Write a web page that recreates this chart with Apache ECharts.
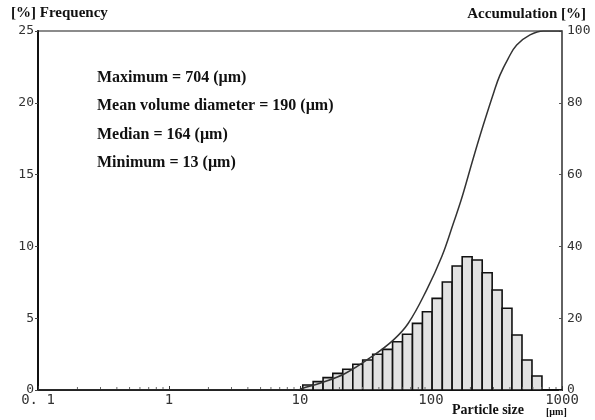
<!DOCTYPE html>
<html>
<head>
<meta charset="utf-8">
<script src="https://cdn.jsdelivr.net/npm/echarts@6/dist/echarts.min.js"></script>
<style>html,body{margin:0;padding:0;background:#fff;}#c{width:595px;height:420px;}</style>
</head>
<body>
<div id="c"></div>
<script>
// ---- data ----
const binEdges = [10.5, 12.6, 15.0, 17.8, 21.2, 25.3, 30.1, 35.9, 42.7, 50.9, 60.6, 72.2, 86.0, 102, 122, 145, 173, 206, 246, 293, 349, 415, 495, 590, 703];
const frequency = [0.35, 0.58, 0.86, 1.16, 1.44, 1.79, 2.09, 2.49, 2.83, 3.36, 3.88, 4.64, 5.45, 6.38, 7.52, 8.63, 9.28, 9.05, 8.17, 6.96, 5.69, 3.83, 2.09, 0.97];
const cumSize = [0.1, 1, 9.5, 10.5, 14.2, 22.1, 35.3, 51.5, 67.1, 92.7, 120.7, 148, 171.5, 210, 250.7, 302.7, 336, 389, 451, 570, 720, 1000];
const cumValue = [0, 0, 0, 0.5, 1.9, 4.6, 9.3, 13.9, 18.6, 27.9, 37.1, 46.4, 53.4, 64.5, 73.8, 83.1, 87.7, 92.4, 96.1, 98.9, 100, 100];
const xTicks = [0.1, 1, 10, 100, 1000];
const xTickLabels = ['0. 1', '1', '10', '100', '1000'];
const xMinorTicks = [0.2,0.3,0.4,0.5,0.6,0.7,0.8,0.9, 2,3,4,5,6,7,8,9, 20,30,40,50,60,70,80,90, 200,300,400,500,600,700,800,900];
const statLines = ['Maximum = 704 (\u00b5m)', 'Mean volume diameter = 190 (\u00b5m)', 'Median = 164 (\u00b5m)', 'Minimum = 13 (\u00b5m)'];

const barData = frequency.map((v, i) => [binEdges[i], binEdges[i + 1], v]);
const lineData = cumSize.map((s, i) => [s, cumValue[i]]);

const chart = echarts.init(document.getElementById('c'), null, {renderer: 'canvas'});
const labelFont = '"DejaVu Sans Mono", monospace';
const serif = '"Liberation Serif", "DejaVu Serif", serif';

chart.setOption({
  animation: false,
  backgroundColor: '#fff',
  grid: {left: 38, right: 33, top: 31, bottom: 30, show: true, borderColor: '#666', borderWidth: 1.5, containLabel: false},
  xAxis: {
    type: 'log', logBase: 10, min: 0.1, max: 1000,
    axisLine: {show: true, onZero: false, lineStyle: {color: '#111', width: 2}},
    axisTick: {show: true, inside: true, length: 4, lineStyle: {color: '#333'}},
    splitLine: {show: false},
    axisLabel: {
      color: '#333', fontFamily: labelFont, fontSize: 14, margin: 3,
      formatter: function (v) { const i = xTicks.findIndex(t => Math.abs(Math.log10(t) - Math.log10(v)) < 1e-6); return i >= 0 ? xTickLabels[i] : ''; }
    }
  },
  yAxis: [
    {
      type: 'value', min: 0, max: 25, interval: 5,
      axisLine: {show: true, lineStyle: {color: '#111', width: 2}},
      axisTick: {show: true, length: 3, lineStyle: {color: '#444'}},
      splitLine: {show: false},
      axisLabel: {color: '#333', fontFamily: labelFont, fontSize: 13, margin: 4}
    },
    {
      type: 'value', min: 0, max: 100, interval: 20, position: 'right',
      axisLine: {show: true, lineStyle: {color: '#555', width: 1.5}},
      axisTick: {show: true, inside: true, length: 3, lineStyle: {color: '#555'}},
      splitLine: {show: false},
      axisLabel: {color: '#333', fontFamily: labelFont, fontSize: 13, margin: 5}
    }
  ],
  series: [
    {
      type: 'custom', name: 'Frequency', yAxisIndex: 0,
      data: barData,
      encode: {x: [0, 1], y: 2},
      renderItem: function (params, api) {
        const p1 = api.coord([api.value(0), api.value(2)]);
        const p2 = api.coord([api.value(1), 0]);
        return {
          type: 'rect',
          shape: {x: p1[0], y: p1[1], width: p2[0] - p1[0], height: p2[1] - p1[1]},
          style: {fill: '#e2e2e2', stroke: '#111', lineWidth: 1.6}
        };
      }
    },
    {
      type: 'custom', name: 'minorTicks', yAxisIndex: 0, silent: true,
      data: xMinorTicks.map(v => [v, 0]),
      renderItem: function (params, api) {
        const p = api.coord([api.value(0), 0]);
        return {type: 'line', shape: {x1: p[0], y1: p[1] - 1, x2: p[0], y2: p[1] - 3}, style: {stroke: '#666', lineWidth: 1}};
      }
    },
    {
      type: 'line', name: 'Accumulation', yAxisIndex: 1,
      data: lineData, showSymbol: false, smooth: 0.4,
      lineStyle: {color: '#333', width: 1.5}
    }
  ],
  graphic: [
    {type: 'text', left: 11, top: 6, style: {text: '[%] Frequency', font: 'bold 15px ' + serif, fill: '#111'}},
    {type: 'text', right: 9, top: 7, style: {text: 'Accumulation [%]', font: 'bold 15px ' + serif, fill: '#111'}},
    {type: 'text', left: 452, top: 403, style: {text: 'Particle size', font: 'bold 14px ' + serif, fill: '#111'}},
    {type: 'text', left: 546, top: 407, style: {text: '[\u00b5m]', font: 'bold 10px ' + serif, fill: '#111'}}
  ].concat(statLines.map((t, i) => ({
    type: 'text', left: 97, top: 70 + i * 28.3,
    style: {text: t, font: 'bold 16px ' + serif, fill: '#111'}
  })))
});
</script>
</body>
</html>
